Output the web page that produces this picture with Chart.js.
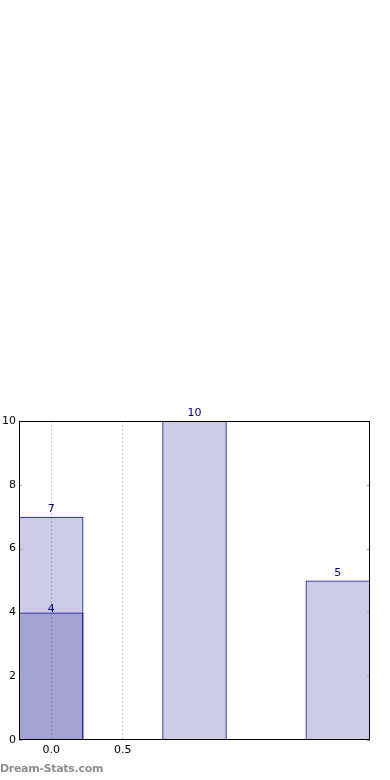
<!DOCTYPE html>
<html>
<head>
<meta charset="utf-8">
<script src="https://cdn.jsdelivr.net/npm/chart.js@4/dist/chart.umd.min.js"></script>
<style>
  html, body { margin: 0; padding: 0; background: #fff; }
  #wrap { position: relative; width: 390px; height: 780px; }
  #watermark {
    position: absolute; left: 0; top: 762px;
    font: bold 11px 'DejaVu Sans', sans-serif; color: #8f8f8f;
    letter-spacing: -0.3px;
  }
</style>
</head>
<body>
<div id="wrap">
  <canvas id="chart" width="390" height="780"></canvas>
  <div id="watermark">Dream-Stats.com</div>
</div>
<script>
// Chart data
const categories = [0, 1, 2];
const totalValues = [7, 10, 5];
const overlapCategories = [0];
const overlapValues = [4];
const xTickValues = [0, 0.5];
const yTickValues = [0, 2, 4, 6, 8, 10];

const NAVY = 'rgb(0, 0, 128)';
const FILL = 'rgba(0, 0, 128, 0.2)';
const FONT = "'DejaVu Sans', sans-serif";

/**
 * Frame, inward tick marks and value labels
 */
const decorPlugin = {
  id: 'decor',
  afterDraw(chart) {
    const ctx = chart.ctx;
    const area = chart.chartArea;
    const yScale = chart.scales.y;

    ctx.save();
    // inward tick marks on both sides
    ctx.strokeStyle = '#a0a0a0';
    ctx.lineWidth = 1;
    yTickValues.forEach(v => {
      const py = Math.round(yScale.getPixelForValue(v)) + 0.5;
      ctx.beginPath();
      ctx.moveTo(area.left, py);
      ctx.lineTo(area.left + 3, py);
      ctx.moveTo(area.right - 3, py);
      ctx.lineTo(area.right, py);
      ctx.stroke();
    });

    // axes frame
    ctx.strokeStyle = '#000';
    ctx.strokeRect(Math.round(area.left) + 0.5, Math.round(area.top) + 0.5,
      Math.round(area.right - area.left) - 1, Math.round(area.bottom - area.top) - 1);

    // value labels
    ctx.fillStyle = NAVY;
    ctx.font = `11px ${FONT}`;
    ctx.textAlign = 'center';
    ctx.textBaseline = 'alphabetic';
    chart.data.datasets.forEach((ds, di) => {
      const meta = chart.getDatasetMeta(di);
      const offset = di === 0 ? 5 : 0;
      meta.data.forEach((bar, i) => {
        ctx.fillText(String(ds.data[i].y), bar.x, bar.y - offset);
      });
    });
    ctx.restore();
  },
};

// bar width is relative to the smallest tick/data gap (0.5 here)
const barOpts = {
  backgroundColor: FILL,
  borderColor: NAVY,
  borderWidth: 1,
  inflateAmount: 0,
  grouped: false,
  categoryPercentage: 1,
  barPercentage: 0.9,
};

new Chart(document.getElementById('chart'), {
  type: 'bar',
  data: {
    datasets: [
      { data: categories.map((c, i) => ({ x: c, y: totalValues[i] })), ...barOpts },
      { data: overlapCategories.map((c, i) => ({ x: c, y: overlapValues[i] })), ...barOpts },
    ],
  },
  options: {
    responsive: false,
    animation: false,
    devicePixelRatio: 1,
    layout: { padding: { top: 421, right: 20, left: 0, bottom: 0 } },
    plugins: {
      legend: { display: false },
      tooltip: { enabled: false },
    },
    scales: {
      x: {
        type: 'linear',
        offset: false,
        min: -0.225,
        max: 2.225,
        afterBuildTicks: scale => { scale.ticks = xTickValues.map(v => ({ value: v })); },
        afterFit: scale => { scale.height = 40; },
        border: { display: false, dash: [2, 2] },
        grid: {
          offset: false,
          drawTicks: false,
          color: '#cdcdcd',
          lineWidth: 1,
        },
        ticks: {
          color: '#000',
          padding: 4,
          maxRotation: 0,
          font: { family: FONT, size: 11 },
          callback: v => Number(v).toFixed(1),
        },
      },
      y: {
        min: 0,
        max: 10,
        afterBuildTicks: scale => { scale.ticks = yTickValues.map(v => ({ value: v })); },
        afterFit: scale => { scale.width = 19; },
        border: { display: false },
        grid: { display: false, drawTicks: false },
        ticks: {
          color: '#000',
          padding: 3,
          font: { family: FONT, size: 11 },
          callback: v => String(v),
        },
      },
    },
  },
  plugins: [decorPlugin],
});
</script>
</body>
</html>
